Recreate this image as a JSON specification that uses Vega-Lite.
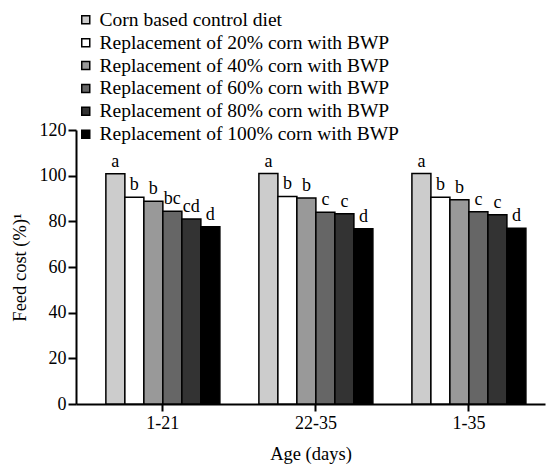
{
  "$schema": "https://vega.github.io/schema/vega-lite/v6.json",
  "width": 469,
  "height": 274,
  "autosize": "none",
  "padding": {"left": 76, "top": 130, "right": 2, "bottom": 62},
  "background": "white",
  "config": {
    "view": {"stroke": null},
    "font": "Liberation Serif",
    "axis": {"labelFont": "Liberation Serif", "titleFont": "Liberation Serif", "labelFontSize": 18, "titleFontSize": 18.5, "titleFontWeight": "normal", "labelColor": "black", "titleColor": "black", "domainColor": "black", "tickColor": "black", "grid": false}
  },
  "data": {"values": [
    {"age": "1-21", "diet": "Corn based control diet", "cost": 100.8, "sig": "a"},
    {"age": "1-21", "diet": "Replacement of 20% corn with BWP", "cost": 90.5, "sig": "b"},
    {"age": "1-21", "diet": "Replacement of 40% corn with BWP", "cost": 88.8, "sig": "b"},
    {"age": "1-21", "diet": "Replacement of 60% corn with BWP", "cost": 84.4, "sig": "bc"},
    {"age": "1-21", "diet": "Replacement of 80% corn with BWP", "cost": 81.0, "sig": "cd"},
    {"age": "1-21", "diet": "Replacement of 100% corn with BWP", "cost": 77.6, "sig": "d"},
    {"age": "22-35", "diet": "Corn based control diet", "cost": 100.9, "sig": "a"},
    {"age": "22-35", "diet": "Replacement of 20% corn with BWP", "cost": 90.9, "sig": "b"},
    {"age": "22-35", "diet": "Replacement of 40% corn with BWP", "cost": 90.2, "sig": "b"},
    {"age": "22-35", "diet": "Replacement of 60% corn with BWP", "cost": 84.0, "sig": "c"},
    {"age": "22-35", "diet": "Replacement of 80% corn with BWP", "cost": 83.3, "sig": "c"},
    {"age": "22-35", "diet": "Replacement of 100% corn with BWP", "cost": 76.8, "sig": "d"},
    {"age": "1-35", "diet": "Corn based control diet", "cost": 100.9, "sig": "a"},
    {"age": "1-35", "diet": "Replacement of 20% corn with BWP", "cost": 90.5, "sig": "b"},
    {"age": "1-35", "diet": "Replacement of 40% corn with BWP", "cost": 89.5, "sig": "b"},
    {"age": "1-35", "diet": "Replacement of 60% corn with BWP", "cost": 84.2, "sig": "c"},
    {"age": "1-35", "diet": "Replacement of 80% corn with BWP", "cost": 82.9, "sig": "c"},
    {"age": "1-35", "diet": "Replacement of 100% corn with BWP", "cost": 77.0, "sig": "d"}
  ]},
  "encoding": {
    "x": {
      "field": "age", "type": "nominal", "sort": ["1-21", "22-35", "1-35"],
      "scale": {"paddingInner": 0.255, "paddingOuter": 0.16, "align": 0.61},
      "axis": {"title": "Age (days)", "labelAngle": 0, "domainWidth": 2, "tickWidth": 2, "tickSize": 7, "labelPadding": 3, "titlePadding": 12}
    },
    "xOffset": {
      "field": "diet", "type": "nominal",
      "sort": ["Corn based control diet", "Replacement of 20% corn with BWP", "Replacement of 40% corn with BWP", "Replacement of 60% corn with BWP", "Replacement of 80% corn with BWP", "Replacement of 100% corn with BWP"],
      "scale": {"paddingInner": 0, "paddingOuter": 0}
    },
    "y": {
      "field": "cost", "type": "quantitative",
      "scale": {"domain": [0, 120], "nice": false},
      "axis": {"title": "Feed cost (%)¹", "values": [0, 20, 40, 60, 80, 100, 120], "domainWidth": 2, "tickWidth": 2, "tickSize": 8, "labelPadding": 2, "titlePadding": 10}
    }
  },
  "layer": [
    {
      "mark": {"type": "bar", "stroke": "black", "strokeWidth": 1.5},
      "encoding": {
        "fill": {
          "field": "diet", "type": "nominal",
          "scale": {
            "domain": ["Corn based control diet", "Replacement of 20% corn with BWP", "Replacement of 40% corn with BWP", "Replacement of 60% corn with BWP", "Replacement of 80% corn with BWP", "Replacement of 100% corn with BWP"],
            "range": ["#cccccc", "#ffffff", "#999999", "#666666", "#333333", "#000000"]
          },
          "legend": {
            "title": null, "orient": "none", "legendX": 0, "legendY": -120,
            "symbolType": "square", "symbolSize": 64, "symbolStrokeColor": "black", "symbolStrokeWidth": 1.5,
            "labelFont": "Liberation Serif", "labelFontSize": 19.5, "labelColor": "black", "labelLimit": 400,
            "rowPadding": 1.9, "labelOffset": 4
          }
        }
      }
    },
    {
      "mark": {"type": "text", "baseline": "bottom", "dy": -3, "font": "Liberation Serif", "fontSize": 18, "color": "black"},
      "encoding": {"text": {"field": "sig", "type": "nominal"}}
    }
  ]
}
